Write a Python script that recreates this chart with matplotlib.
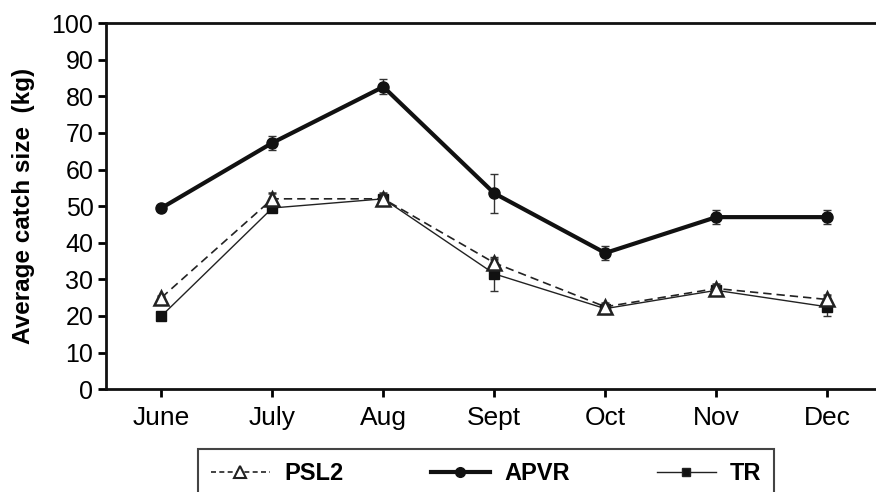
import numpy as np
import matplotlib.pyplot as plt
from matplotlib.lines import Line2D

plt.rc('font', family='Liberation Sans')

months = ['June', 'July', 'Aug', 'Sept', 'Oct', 'Nov', 'Dec']
apvr = [49.5, 67.3, 82.6, 53.5, 37.2, 47.0, 47.0]
apvr_err = [0.8, 2.0, 2.0, 5.3, 1.8, 2.0, 2.0]
psl2 = [25.0, 52.0, 52.0, 34.5, 22.5, 27.5, 24.5]
psl2_err = [0.5, 1.5, 1.5, 1.0, 1.0, 1.2, 1.2]
tr = [20.0, 49.5, 52.0, 31.5, 22.0, 27.0, 22.5]
tr_err = [0.5, 1.0, 1.0, 4.7, 1.0, 1.0, 2.5]

fig = plt.figure(figsize=(8.76, 4.92), dpi=100)
ax = fig.add_axes([0.121, 0.209, 0.879, 0.744])
x = np.arange(len(months))

ax.errorbar(x, psl2, yerr=psl2_err, color='#222222', ls=(0, (5, 3)), lw=1.2,
            marker='^', ms=10, mfc='white', mec='#222222', mew=1.8,
            capsize=3, elinewidth=1, ecolor='#333333', zorder=3)
ax.errorbar(x, tr, yerr=tr_err, color='#222222', ls='-', lw=1.0,
            marker='s', ms=7, mfc='#111111', mec='#111111',
            capsize=3, elinewidth=1, ecolor='#333333', zorder=2)
ax.errorbar(x, apvr, yerr=apvr_err, color='#111111', ls='-', lw=3.0,
            marker='o', ms=8, mfc='#111111', mec='#111111',
            capsize=3, elinewidth=1, ecolor='#333333', zorder=4)

ax.set_xlim(-0.5, 6.44)
ax.set_ylim(0, 100)
ax.set_yticks(np.arange(0, 101, 10))
ax.set_xticks(x)
ax.set_xticklabels(months)
ax.tick_params(axis='both', labelsize=18, width=2, length=6, direction='out')
ax.tick_params(axis='y', pad=3)
ax.tick_params(axis='x', pad=6, labelsize=19)
ax.set_ylabel('Average catch size  (kg)', fontsize=17.5, fontweight='bold', labelpad=12)

for s in ['left', 'bottom', 'top']:
    ax.spines[s].set_linewidth(2)
    ax.spines[s].set_color('#111111')
ax.spines['right'].set_visible(False)

handles = [
    Line2D([], [], color='#222222', ls=(0, (3, 2)), lw=1.2, marker='^', ms=9,
           mfc='white', mec='#222222', mew=1.5),
    Line2D([], [], color='#111111', ls='-', lw=3.0, marker='o', ms=7, mfc='#111111'),
    Line2D([], [], color='#222222', ls='-', lw=1.0, marker='s', ms=6, mfc='#111111'),
]
leg = fig.legend(handles, ['PSL2', 'APVR', 'TR'], loc='upper center',
                 bbox_to_anchor=(0.555, 0.087), borderaxespad=0, ncol=3,
                 fancybox=False, edgecolor='#444444', framealpha=1,
                 handlelength=2.5, handletextpad=0.6, columnspacing=3.7,
                 borderpad=0.55, prop={'weight': 'bold', 'size': 17})
leg.get_frame().set_linewidth(1.5)

fig.savefig('out.png', dpi=100)
